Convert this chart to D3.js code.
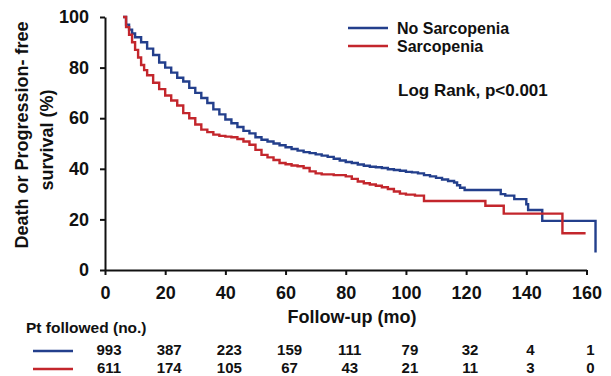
<!DOCTYPE html>
<html><head><meta charset="utf-8">
<script src="https://cdn.jsdelivr.net/npm/d3@7"></script>
<style>body{margin:0;background:#fff}svg{display:block;font-family:"Liberation Sans",Arial,sans-serif;font-weight:bold}</style>
</head><body>
<script>
// ---- data ----
const seriesNames = ["No Sarcopenia", "Sarcopenia"];
const noSarcTime = [6,7,8,9,10,12,14,16,18,20,22,24,26,28,30,32,34,36,38,40,42,44,46,48,50,52,54,56,58,60,62,64,66,68,70,72,74,76,78,80,82,84,86,88,90,92,94,96,98,100,102,104,106,108,110,112,114,116,117,118,119.5,131.5,133,136,140,140.6,145.3,163];
const noSarcSurv = [100,97,95,93.5,92,90,87.5,85,82,80,78,76,74.5,72,70,68,66,63.5,61.5,59.5,58,56.5,55,54,52.5,51.5,50.8,50,49.3,48.5,47.8,47.2,46.6,46.2,45.7,45.2,44.7,44,43.3,42.7,42.3,41.7,41.2,40.8,40.6,40.3,39.8,39.5,39.2,38.8,38.6,38.2,37.5,37,36.4,35.8,35.2,34.6,33.5,32.5,31.6,30,29.4,28,26,23.7,19.4,6.9];
const sarcTime = [6,7,8,9,10,11,12,13,14,16,18,20,22,24,26,28,30,32,34,36,38,40,42,44,46,48,50,52,54,56,58,60,62,64,66,68,70,72,76,80,82,84,86,88,90,92,94,96,98,100,103,106,126.4,132.5,152,159.7];
const sarcSurv = [100,96,93,90,87,84,81,79,77,74,71.5,69,67,65,62,60,57.5,55.5,54.5,53.5,53,52.7,52.5,51.8,50.8,49.5,47.5,45.5,44.5,43.5,42.3,41.8,41.3,41,40.3,39,38.2,37.8,37.5,37,36,35,34.3,33.8,33.3,32.7,32,31,30.2,29.8,29.4,27.3,25.4,22.3,14.5,14.5];
const xTicks = [0,20,40,60,80,100,120,140,160];
const yTicks = [0,20,40,60,80,100];
const riskNoSarc = [993,387,223,159,111,79,32,4,1];
const riskSarc = [611,174,105,67,43,21,11,3,0];
const pValueText = "Log Rank, p<0.001";

const W = 611, H = 376;
const colors = ["#233f8c", "#c3262c"];
const svg = d3.select("body").append("svg").attr("width", W).attr("height", H);

const x = d3.scaleLinear().domain([0,160]).range([105,586.5]);
const y = d3.scaleLinear().domain([0,100]).range([270,17]);

// axes
const yAxis = svg.append("g").attr("transform","translate(105,0)")
  .call(d3.axisLeft(y).tickValues(yTicks).tickSize(5).tickPadding(11).tickSizeOuter(0));
const xAxis = svg.append("g").attr("transform","translate(0,270)")
  .call(d3.axisBottom(x).tickValues(xTicks).tickSize(5).tickPadding(11).tickSizeOuter(0));
[yAxis,xAxis].forEach(g=>{
  g.selectAll("path.domain").attr("stroke","#111").attr("stroke-width",2);
  g.selectAll(".tick line").attr("stroke","#111").attr("stroke-width",2);
  g.selectAll(".tick text").attr("fill","#111").style("font-size","18px").style("font-weight","bold")
   .style("font-family",'"Liberation Sans",Arial,sans-serif');
});
xAxis.selectAll(".tick text").attr("dy","0.72em");

// curves
const series = [
  d3.zip(noSarcTime, noSarcSurv),
  d3.zip(sarcTime, sarcSurv)
];
const line = d3.line().x(d=>x(d[0])).y(d=>y(d[1])).curve(d3.curveStepAfter);
// draw blue first then red
series.forEach((s,i)=>{
  svg.append("path").datum(s).attr("d",line).attr("fill","none")
    .attr("stroke",colors[i]).attr("stroke-width",2.4).attr("stroke-linejoin","miter");
});

// y title
const yt = svg.append("g").attr("fill","#111").style("font-size","18px");
yt.append("text").attr("transform","translate(28,135) rotate(-90)").attr("text-anchor","middle").text("Death or Progression- free");
yt.append("text").attr("transform","translate(53,140) rotate(-90)").attr("text-anchor","middle").text("survival (%)");

// x title
svg.append("text").attr("x",352).attr("y",323).attr("text-anchor","middle").attr("fill","#111")
  .style("font-size","18px").text("Follow-up (mo)");

// legend
const leg = svg.append("g");
seriesNames.forEach((n,i)=>{
  const yy = 28 + i*18;
  leg.append("line").attr("x1",348).attr("x2",388).attr("y1",yy).attr("y2",yy).attr("stroke",colors[i]).attr("stroke-width",2.6);
  leg.append("text").attr("x",397).attr("y",yy+5.5).attr("fill","#111").style("font-size","16px").text(n);
});
svg.append("text").attr("x",398).attr("y",96).attr("fill","#111").style("font-size","17px").text(pValueText);

// risk table
svg.append("text").attr("x",26).attr("y",333).attr("fill","#111").style("font-size","15.5px").text("Pt followed (no.)");
[riskNoSarc, riskSarc].forEach((row,i)=>{
  const yy = 351 + i*18;
  svg.append("line").attr("x1",33).attr("x2",73).attr("y1",yy).attr("y2",yy).attr("stroke",colors[i]).attr("stroke-width",2.6);
  svg.append("g").selectAll("text").data(row).join("text")
    .attr("x",(d,j)=>x(xTicks[j])+4).attr("y",yy+3.5).attr("text-anchor","middle")
    .attr("fill","#111").style("font-size","15px").text(d=>d);
});
</script>
</body></html>
